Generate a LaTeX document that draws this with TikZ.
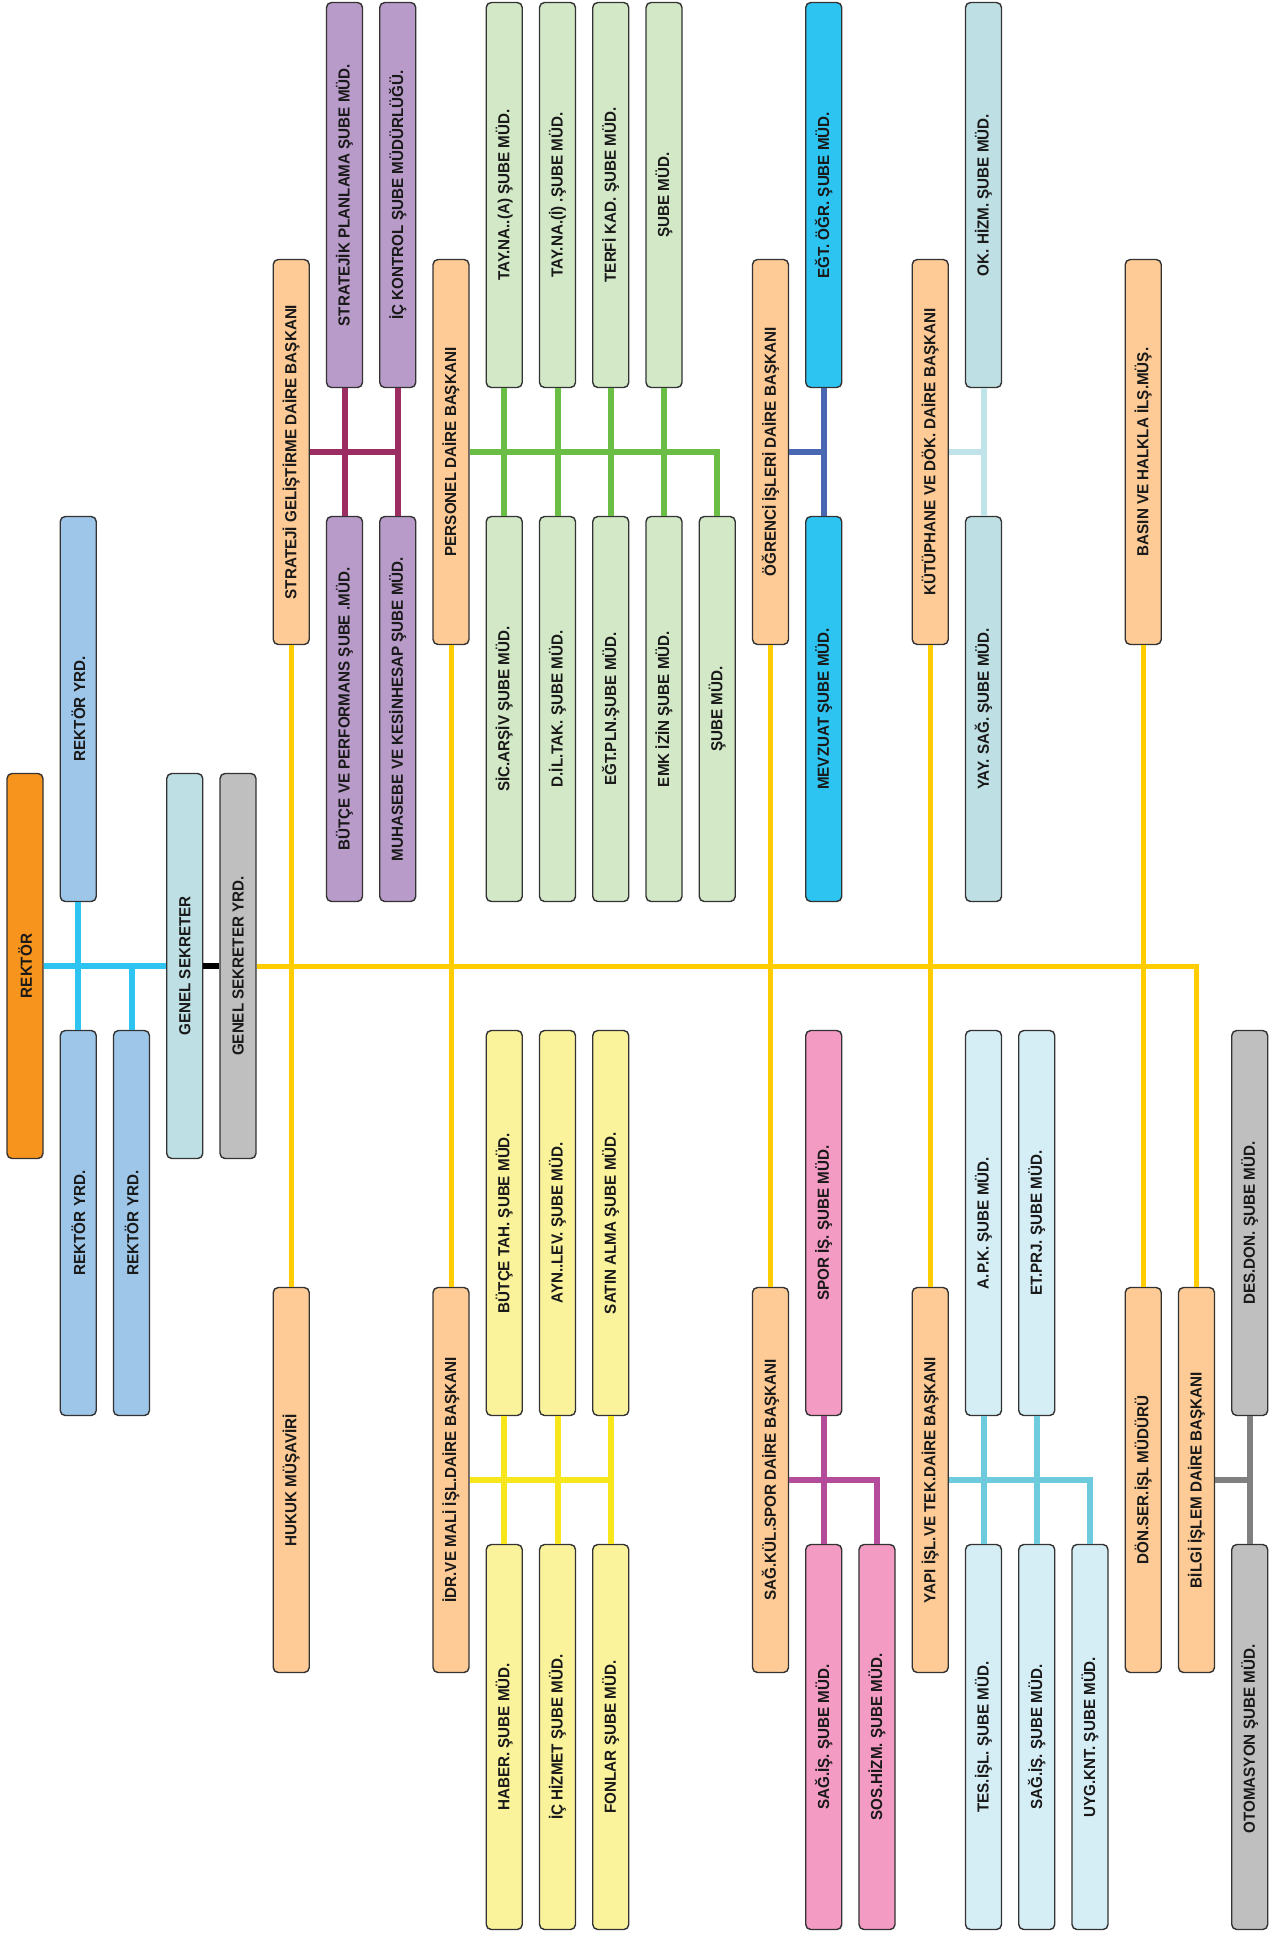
\documentclass[tikz,border=0pt]{standalone}
\usepackage{fontspec}
\setmainfont{Liberation Sans}[FakeStretch=0.95]
\usetikzlibrary{calc}

\definecolor{rektorC}{HTML}{F7941D}
\definecolor{yrdC}{HTML}{9DC6E8}
\definecolor{gsC}{HTML}{BEDFE3}
\definecolor{grayC}{HTML}{BFBFBF}
\definecolor{headC}{HTML}{FECB96}
\definecolor{purpleC}{HTML}{B89BC9}
\definecolor{greenC}{HTML}{D3E8C7}
\definecolor{yellowC}{HTML}{FAF39C}
\definecolor{cyanC}{HTML}{2EC4F2}
\definecolor{pinkC}{HTML}{F39BC3}
\definecolor{skyC}{HTML}{D5EDF4}
% connector colours
\definecolor{mainL}{HTML}{FFCC00}
\definecolor{purpleL}{HTML}{9B2D62}
\definecolor{greenL}{HTML}{6ABD45}
\definecolor{blueL}{HTML}{4A67B1}
\definecolor{lblueL}{HTML}{BFE3E8}
\definecolor{yellowL}{HTML}{F6E61B}
\definecolor{pinkL}{HTML}{B44B9B}
\definecolor{skyL}{HTML}{6ECBDD}
\definecolor{grayL}{HTML}{808080}

\begin{document}
\begin{tikzpicture}[
    x=0.5pt, y=-0.5pt,
    box/.style={
        rectangle, rounded corners=2.5pt,
        minimum width=18pt, minimum height=192.5pt, inner sep=0pt,
        draw=black!80, line width=0.7pt,
        font=\bfseries\fontsize{8}{9}\selectfont, text=black!90,
      },
    bus/.style={
        line width=3pt,
      },
    mainline/.style={
        mainL, line width=2.5pt,
      }
  ]
  \fill[white] (0,0) rectangle (1279,1934);
  \useasboundingbox (0,0) rectangle (1279,1934);

  \foreach \n/\c/\r/\f/\t in {
      rektor/0/3/rektorC/REKTÖR,
      ryd1/1/2/yrdC/REKTÖR YRD.,
      ryd2/1/4/yrdC/REKTÖR YRD.,
      ryd3/2/4/yrdC/REKTÖR YRD.,
      gensek/3/3/gsC/GENEL  SEKRETER,
      gsyrd/4/3/grayC/GENEL  SEKRETER YRD.,
      strateji/5/1/headC/STRATEJİ GELİŞTİRME DAİRE BAŞKANI,
      hukuk/5/5/headC/HUKUK MÜŞAVİRİ,
      personel/8/1/headC/PERSONEL DAİRE BAŞKANI,
      idari/8/5/headC/İDR.VE MALİ İŞL.DAİRE BAŞKANI,
      ogrenci/14/1/headC/ÖĞRENCİ İŞLERİ DAİRE BAŞKANI,
      sks/14/5/headC/SAĞ.KÜL.SPOR DAİRE BAŞKANI,
      kutuphane/17/1/headC/KÜTÜPHANE VE DÖK. DAİRE BAŞKANI,
      yapi/17/5/headC/YAPI İŞL.VE TEK.DAİRE BAŞKANI,
      basin/21/1/headC/BASIN VE HALKLA İLŞ.MÜŞ.,
      donser/21/5/headC/DÖN.SER.İŞL MÜDÜRÜ,
      bilgi/22/5/headC/BİLGİ İŞLEM DAİRE BAŞKANI,
      stplan/6/0/purpleC/STRATEJİK  PLANLAMA  ŞUBE MÜD.,
      ickont/7/0/purpleC/İÇ KONTROL  ŞUBE MÜDÜRLÜĞÜ.,
      butper/6/2/purpleC/BÜTÇE VE PERFORMANS  ŞUBE .MÜD.,
      muhas/7/2/purpleC/MUHASEBE VE KESİNHESAP  ŞUBE  MÜD.,
      tayA/9/0/greenC/TAY.NA..(A) ŞUBE MÜD.,
      tayI/10/0/greenC/TAY.NA.(İ) .ŞUBE MÜD.,
      terfi/11/0/greenC/TERFİ KAD. ŞUBE MÜD.,
      subeA/12/0/greenC/ŞUBE MÜD.,
      sicil/9/2/greenC/SİC.ARŞİV ŞUBE MÜD.,
      dil/10/2/greenC/D.İL.TAK. ŞUBE MÜD.,
      egtpln/11/2/greenC/EĞT.PLN.ŞUBE MÜD.,
      emk/12/2/greenC/EMK İZİN ŞUBE MÜD.,
      subeB/13/2/greenC/ŞUBE MÜD.,
      egtogr/15/0/cyanC/EĞT. ÖĞR. ŞUBE MÜD.,
      mevzuat/15/2/cyanC/MEVZUAT ŞUBE MÜD.,
      okhizm/18/0/gsC/OK. HİZM. ŞUBE MÜD.,
      yaysag/18/2/gsC/YAY.  SAĞ.  ŞUBE MÜD.,
      butah/9/4/yellowC/BÜTÇE TAH. ŞUBE MÜD.,
      aynlev/10/4/yellowC/AYN..LEV. ŞUBE MÜD.,
      satin/11/4/yellowC/SATIN ALMA  ŞUBE MÜD.,
      haber/9/6/yellowC/HABER.  ŞUBE MÜD.,
      ichiz/10/6/yellowC/İÇ HİZMET  ŞUBE MÜD.,
      fonlar/11/6/yellowC/FONLAR  ŞUBE MÜD.,
      spor/15/4/pinkC/SPOR İŞ.  ŞUBE MÜD.,
      sagis/15/6/pinkC/SAĞ.İŞ. ŞUBE MÜD.,
      soshiz/16/6/pinkC/SOS.HİZM.  ŞUBE MÜD.,
      apk/18/4/skyC/A.P.K. ŞUBE MÜD.,
      etprj/19/4/skyC/ET.PRJ.  ŞUBE MÜD.,
      tesisl/18/6/skyC/TES.İŞL.  ŞUBE MÜD.,
      sagisb/19/6/skyC/SAĞ.İŞ.  ŞUBE MÜD.,
      uygknt/20/6/skyC/UYG.KNT.  ŞUBE MÜD.,
      desdon/23/4/grayC/DES.DON.  ŞUBE MÜD.,
      otom/23/6/grayC/OTOMASYON  ŞUBE MÜD.
    }{
      \node[box, fill=\f] (\n) at ({25+53.25*\c},{195+257*\r}) {\rotatebox{90}{\t}};
    }

  % rektor and genel sekreter
  \draw[bus, cyanC] (rektor.east) -- (gensek.west);
  \draw[bus, cyanC] (ryd1.south) -- (ryd2.north);
  \draw[bus, cyanC] (ryd3.north) -- (ryd3.north |- rektor.east);
  \draw[bus, black] (gensek.east) -- (gsyrd.west);

  % main line
  \draw[mainline] (gsyrd.east) -| (bilgi.north);
  \foreach \a/\b in {strateji/hukuk, personel/idari, ogrenci/sks, kutuphane/yapi, basin/donser}
    \draw[mainline] (\a.south) -- (\b.north);

  % upper departments
  \draw[bus, purpleL] (strateji.east) -- (ickont.south |- strateji.east);
  \foreach \a/\b in {stplan/butper, ickont/muhas}
    \draw[bus, purpleL] (\a.south) -- (\b.north);
  \draw[bus, greenL] (personel.east) -| (subeB.north);
  \foreach \a/\b in {tayA/sicil, tayI/dil, terfi/egtpln, subeA/emk}
    \draw[bus, greenL] (\a.south) -- (\b.north);
  \draw[bus, blueL] (ogrenci.east) -- (egtogr.south |- ogrenci.east);
  \draw[bus, blueL] (egtogr.south) -- (mevzuat.north);
  \draw[bus, lblueL] (kutuphane.east) -- (okhizm.south |- kutuphane.east);
  \draw[bus, lblueL] (okhizm.south) -- (yaysag.north);

  % lower departments
  \draw[bus, yellowL] (idari.east) -- (satin.south |- idari.east);
  \foreach \a/\b in {butah/haber, aynlev/ichiz, satin/fonlar}
    \draw[bus, yellowL] (\a.south) -- (\b.north);
  \draw[bus, pinkL] (sks.east) -| (soshiz.north);
  \draw[bus, pinkL] (spor.south) -- (sagis.north);
  \draw[bus, skyL] (yapi.east) -| (uygknt.north);
  \foreach \a/\b in {apk/tesisl, etprj/sagisb}
    \draw[bus, skyL] (\a.south) -- (\b.north);
  \draw[bus, grayL] (bilgi.east) -- (desdon.south |- bilgi.east);
  \draw[bus, grayL] (desdon.south) -- (otom.north);
\end{tikzpicture}
\end{document}
